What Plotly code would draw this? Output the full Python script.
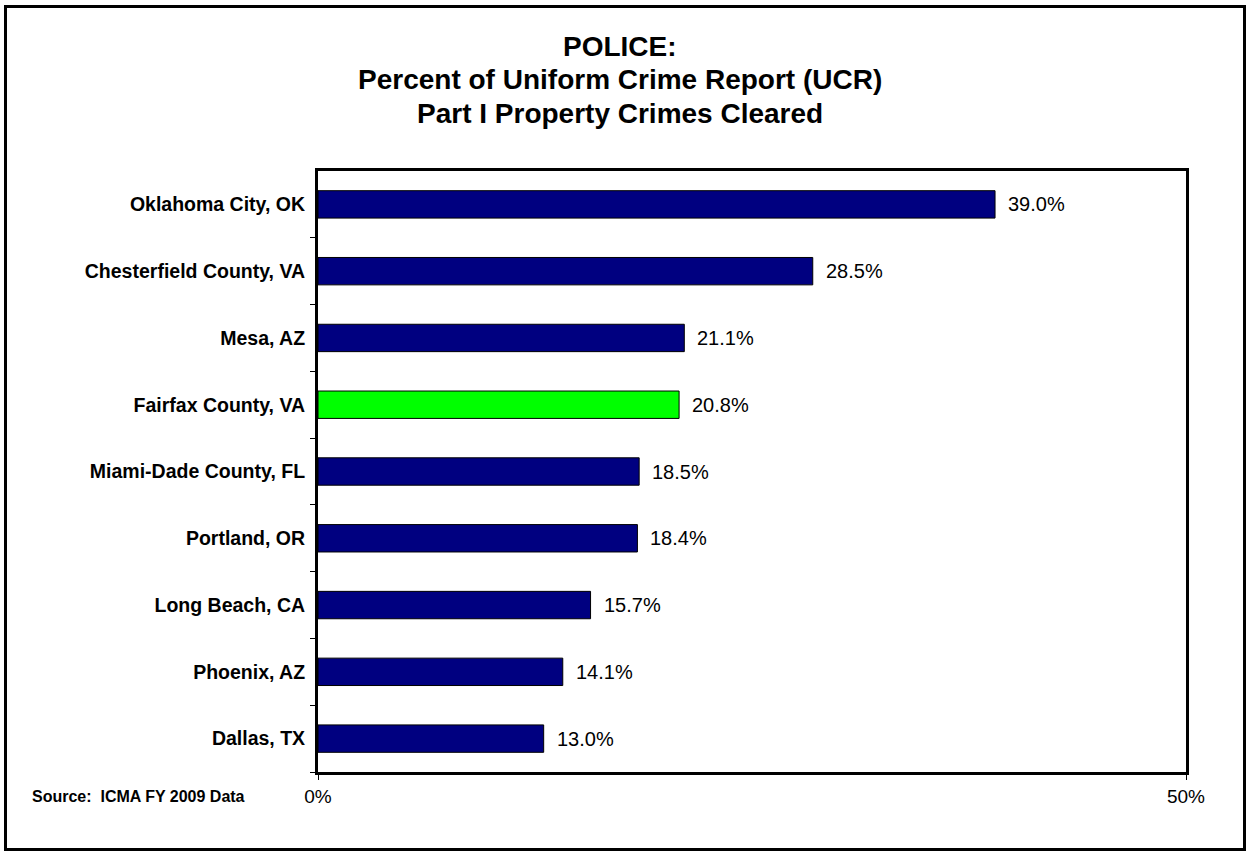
import plotly.graph_objects as go

categories = ["Oklahoma City, OK", "Chesterfield County, VA", "Mesa, AZ", "Fairfax County, VA",
              "Miami-Dade County, FL", "Portland, OR", "Long Beach, CA", "Phoenix, AZ", "Dallas, TX"]
values = [39.0, 28.5, 21.1, 20.8, 18.5, 18.4, 15.7, 14.1, 13.0]
labels = ["39.0%", "28.5%", "21.1%", "20.8%", "18.5%", "18.4%", "15.7%", "14.1%", "13.0%"]
highlight = "Fairfax County, VA"
x_ticks = [0, 50]
x_ticklabels = ["0%", "50%"]
title_lines = ["POLICE:", "Percent of Uniform Crime Report (UCR)", "Part I Property Crimes Cleared"]

FONT = "Liberation Sans, Arial, sans-serif"
colors = ["#00FF00" if c == highlight else "#000080" for c in categories]

W, H = 1247, 854
L, R, T, B = 318, 1186, 171, 772
pw, ph = R - L, B - T

fig = go.Figure()
fig.add_trace(go.Bar(
    y=categories, x=values, orientation="h",
    marker=dict(color=colors, line=dict(color="#000000", width=1)),
    width=0.41, showlegend=False, hoverinfo="skip",
))

for c, v, t in zip(categories, values, labels):
    fig.add_annotation(x=v, y=c, text=t, showarrow=False, xanchor="left", yanchor="middle",
                       xshift=11, font=dict(family=FONT, size=20, color="#000000"))

for i, line in enumerate(title_lines):
    fig.add_annotation(xref="paper", yref="paper", x=(620 - L) / pw, y=(B - (47 + 33 * i)) / ph,
                       text="<b>" + line + "</b>", showarrow=False, xanchor="center", yanchor="middle",
                       font=dict(family=FONT, size=28, color="#000000"))

fig.add_annotation(xref="paper", yref="paper", x=(30 - L) / pw, y=(B - 796) / ph,
                   text="<b>Source:  ICMA FY 2009 Data</b>", showarrow=False,
                   xanchor="left", yanchor="middle",
                   font=dict(family=FONT, size=16, color="#000000"))

fig.add_shape(type="rect", xref="paper", yref="paper",
              x0=(5.5 - L) / pw, x1=(1244.5 - L) / pw,
              y0=(B - 849.5) / ph, y1=(B - 6.5) / ph,
              line=dict(color="#000000", width=3), fillcolor="rgba(0,0,0,0)", layer="above")

fig.update_layout(
    width=W, height=H,
    margin=dict(l=L, r=W - R, t=T, b=H - B, pad=0),
    paper_bgcolor="#FFFFFF", plot_bgcolor="#FFFFFF",
    font=dict(family=FONT, color="#000000"),
    bargap=0.59,
)
fig.update_xaxes(range=[0, 50], tickvals=x_ticks, ticktext=x_ticklabels, showgrid=False,
                 zeroline=False, showline=True, linecolor="#000000", linewidth=3, mirror=True,
                 ticks="outside", ticklen=5, tickcolor="#000000", tickwidth=1,
                 tickfont=dict(family=FONT, size=19, color="#000000"), ticklabelstandoff=0)
fig.update_yaxes(categoryorder="array", categoryarray=categories[::-1], autorange=True,
                 showgrid=False, zeroline=False, showline=True, linecolor="#000000", linewidth=3,
                 mirror=True, ticks="outside", ticklen=5, tickcolor="#000000", tickwidth=1,
                 tickson="boundaries",
                 tickfont=dict(family=FONT, size=19.5, color="#000000"), ticklabelstandoff=6)
fig.update_yaxes(tickvals=categories, ticktext=["<b>" + c + "</b>" for c in categories])

fig.write_html("out.html", config={"displayModeBar": False},
               post_script="document.body.style.margin='0';document.body.style.overflow='hidden';")
